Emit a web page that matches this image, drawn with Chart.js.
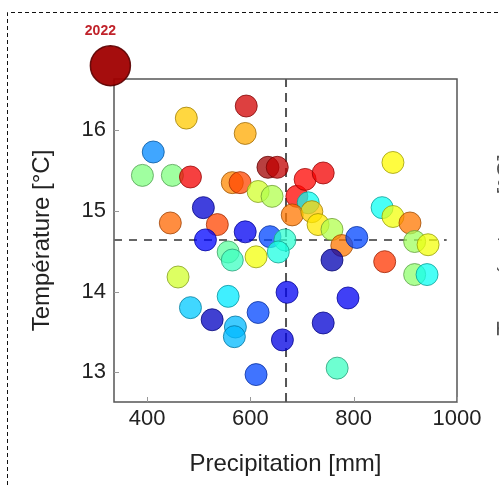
<!DOCTYPE html>
<html>
<head>
<meta charset="utf-8">
<script src="https://cdn.jsdelivr.net/npm/chart.js@4.4.0/dist/chart.umd.min.js"></script>
<style>
  html, body { margin: 0; padding: 0; background: #fff; }
  #wrap { width: 499px; height: 486px; position: relative; overflow: hidden; }
</style>
</head>
<body>
<div id="wrap"><canvas id="chart" width="499" height="486"></canvas></div>
<script>
// yearly precipitation [mm] / mean temperature [°C], year sets the colour
const precip = [476, 592, 590, 412, 391, 449, 484, 565, 580, 634, 652, 615, 642, 509, 445, 536, 513, 590, 638,
                667, 654, 557, 565, 611, 690, 712, 681, 719, 731, 758, 706, 741, 777, 758, 806, 876, 855, 876,
                909, 918, 944, 860, 918, 942, 671, 789, 741, 662, 768, 460, 484, 526, 557, 571, 569, 615, 611];
const temp = [16.15, 16.30, 15.96, 15.73, 15.44, 15.44, 15.42, 15.35, 15.35, 15.54, 15.54, 15.24, 15.18, 15.04,
              14.85, 14.83, 14.64, 14.74, 14.68, 14.64, 14.49, 14.49, 14.39, 14.43, 15.18, 15.10, 14.95, 14.99,
              14.83, 14.77, 15.39, 15.47, 14.57, 14.39, 14.67, 15.60, 15.04, 14.93, 14.85, 14.62, 14.58, 14.37,
              14.21, 14.21, 13.99, 13.92, 13.61, 13.40, 13.05, 14.18, 13.80, 13.65, 13.94, 13.56, 13.44, 13.74, 12.97];
const years = [2002, 2017, 2004, 1976, 1991, 1991, 2015, 2006, 2010, 2020, 2018, 1996, 1994, 1965, 2008, 2010,
               1968, 1967, 1972, 1986, 1985, 1989, 1987, 1998, 2014, 1984, 2007, 2002, 2000, 1994, 2014, 2015,
               2007, 1963, 1972, 1999, 1984, 1998, 2007, 1993, 1998, 2011, 1992, 1984, 1967, 1967, 1965, 1966,
               1987, 1996, 1980, 1964, 1982, 1979, 1979, 1972, 1972];

const highlightYear = 2022;
const highlightPrecip = 329;
const highlightTemp = 16.8;

const meanPrecip = 669;
const meanTemp = 14.64;

const xTicks = [400, 600, 800, 1000];
const yTicks = [13, 14, 15, 16];
const xMin = 336, xMax = 1000, yMin = 12.63, yMax = 16.635;
const yearMin = 1960, yearMax = 2022;

const FONT = "'Liberation Sans', Arial, sans-serif";

function clamp01(v){ return Math.max(0, Math.min(1, v)); }

// matplotlib style jet
function jet(year, alpha, shade){
    let t = clamp01((year - yearMin) / (yearMax - yearMin));
    let r = clamp01(Math.min(4 * t - 1.5, -4 * t + 4.5));
    let g = clamp01(Math.min(4 * t - 0.5, -4 * t + 3.5));
    let b = clamp01(Math.min(4 * t + 0.5, -4 * t + 2.5));
    let k = shade || 1;
    return "rgba(" + Math.round(r * 255 * k) + "," + Math.round(g * 255 * k) + "," +
           Math.round(b * 255 * k) + "," + alpha + ")";
}

const points = precip.map(function(p, i){ return {x: p, y: temp[i]}; });

const decor = {
    id: "decor",
    beforeDraw: function(chart){
        const ctx = chart.ctx;
        ctx.save();
        ctx.strokeStyle = "#111";
        ctx.lineWidth = 1;
        ctx.setLineDash([4, 3]);
        ctx.beginPath();
        ctx.moveTo(7.5, 520);
        ctx.lineTo(7.5, 12.5);
        ctx.lineTo(520, 12.5);
        ctx.stroke();
        ctx.restore();

        // y label of the next panel, almost all of it off the page
        ctx.save();
        ctx.fillStyle = "#555";
        ctx.font = "24px " + FONT;
        ctx.textAlign = "center";
        ctx.textBaseline = "alphabetic";
        ctx.translate(514, 245);
        ctx.rotate(-Math.PI / 2);
        ctx.fillText("Température [°C]", 0, 0);
        ctx.restore();
    },
    beforeDatasetsDraw: function(chart){
        const ctx = chart.ctx;
        const a = chart.chartArea;
        const xs = chart.scales.x, ys = chart.scales.y;
        ctx.save();
        ctx.strokeStyle = "#555";
        ctx.lineWidth = 1.5;
        ctx.strokeRect(a.left, a.top, a.right - a.left, a.bottom - a.top);
        ctx.lineWidth = 1;
        ctx.strokeStyle = "#999";
        xTicks.forEach(function(v){
            let px = Math.round(xs.getPixelForValue(v)) + 0.5;
            ctx.beginPath(); ctx.moveTo(px, a.bottom); ctx.lineTo(px, a.bottom - 5); ctx.stroke();
        });
        yTicks.forEach(function(v){
            let py = Math.round(ys.getPixelForValue(v)) + 0.5;
            ctx.beginPath(); ctx.moveTo(a.left, py); ctx.lineTo(a.left + 5, py); ctx.stroke();
        });
        ctx.restore();
    },
    afterDraw: function(chart){
        const ctx = chart.ctx;
        const px = chart.scales.x.getPixelForValue(highlightPrecip);
        const py = chart.scales.y.getPixelForValue(highlightTemp);
        ctx.save();
        ctx.fillStyle = "#c0222a";
        ctx.font = "bold 14px " + FONT;
        ctx.textAlign = "center";
        ctx.textBaseline = "middle";
        ctx.fillText(String(highlightYear), px - 10, py - 35);
        ctx.restore();
    }
};

const ctx = document.getElementById("chart").getContext("2d");
window.myChart = new Chart(ctx, {
    type: "scatter",
    data: {
        datasets: [
            {
                label: "years",
                data: points,
                pointRadius: 11,
                pointHoverRadius: 11,
                borderWidth: 1,
                backgroundColor: function(c){ return jet(years[c.dataIndex], 0.75, 1); },
                borderColor: function(c){ return jet(years[c.dataIndex], 0.75, 0.6); },
                order: 1
            },
            {
                label: "2022",
                data: [{x: highlightPrecip, y: highlightTemp}],
                pointRadius: 20,
                borderWidth: 1.5,
                backgroundColor: "rgba(160,0,0,0.95)",
                borderColor: "rgba(90,0,0,0.9)",
                clip: false,
                order: 0
            },
            {
                type: "line",
                label: "mean precip",
                data: [{x: meanPrecip, y: yMin}, {x: meanPrecip, y: yMax}],
                borderColor: "#555",
                borderWidth: 2,
                borderDash: [9, 6],
                pointRadius: 0,
                order: 2
            },
            {
                type: "line",
                label: "mean temp",
                data: [{x: xMin, y: meanTemp}, {x: 980, y: meanTemp}],
                borderColor: "#666",
                borderWidth: 2,
                borderDash: [8, 7],
                pointRadius: 0,
                order: 2
            }
        ]
    },
    options: {
        responsive: false,
        animation: false,
        devicePixelRatio: 1,
        layout: { padding: { left: 0, top: 79, right: 42, bottom: 0 } },
        plugins: { legend: { display: false }, tooltip: { enabled: false } },
        scales: {
            x: {
                type: "linear",
                min: xMin, max: xMax,
                afterFit: function(s){ s.height = 84; },
                afterBuildTicks: function(s){ s.ticks = xTicks.map(function(v){ return {value: v}; }); },
                grid: { display: false, drawTicks: false },
                border: { display: false },
                ticks: {
                    color: "#222", padding: 4, font: { size: 22, family: FONT },
                    callback: function(v){ return String(v); }
                },
                title: {
                    display: true, text: "Precipitation [mm]", color: "#222",
                    font: { size: 24, family: FONT }, padding: { top: 0, bottom: 7 }
                }
            },
            y: {
                type: "linear",
                min: yMin, max: yMax,
                afterFit: function(s){ s.width = 114; },
                afterBuildTicks: function(s){ s.ticks = yTicks.map(function(v){ return {value: v}; }); },
                grid: { display: false, drawTicks: false },
                border: { display: false },
                ticks: {
                    color: "#222", padding: 8, font: { size: 22, family: FONT },
                    callback: function(v){ return String(v); }
                },
                title: {
                    display: true, text: "Température [°C]", color: "#222",
                    font: { size: 24, family: FONT }, padding: { top: 28, bottom: 0 }
                }
            }
        }
    },
    plugins: [decor]
});
</script>
</body>
</html>
